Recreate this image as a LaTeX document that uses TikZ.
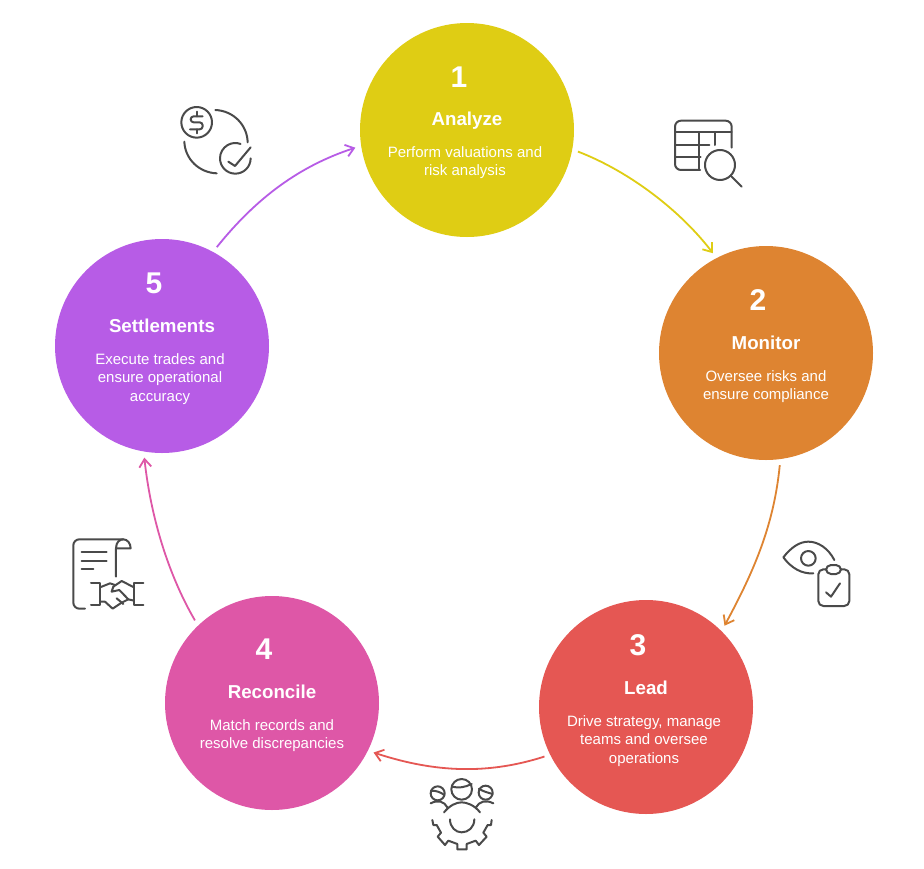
\documentclass[tikz,border=0pt]{standalone}
\usepackage{fontspec}
\setmainfont{Liberation Sans}
\usetikzlibrary{arrows.meta}
\definecolor{cA}{HTML}{DFCD14}
\definecolor{cB}{HTML}{DE8431}
\definecolor{cC}{HTML}{E55753}
\definecolor{cD}{HTML}{DE57A7}
\definecolor{cE}{HTML}{B75CE6}
\definecolor{ink}{HTML}{4A4A4A}
\tikzset{
  disc/.style={circle,draw=none,fill=#1,minimum size=214pt,inner sep=0pt,outer sep=6pt},
  num/.style={text=white,font=\bfseries\fontsize{30}{32}\selectfont,inner sep=0pt},
  ttl/.style={text=white,font=\bfseries\fontsize{18.7}{20}\selectfont,inner sep=0pt},
  dsc/.style={text=white,font=\fontsize{15}{18.2}\selectfont,align=center,inner sep=0pt},
  link/.style={draw=#1,line width=1.8pt,-{Straight Barb[length=8pt,width=12pt,line width=1.8pt]}},
  iconline/.style={draw=ink,line width=2pt,line cap=round,line join=round},
  iconbox/.style={shift={(#1)},x=0.3333pt,y=-0.3333pt}
}
\begin{document}
\begin{tikzpicture}[x=1pt,y=-1pt]
\useasboundingbox[fill=white] (0,0) rectangle (924,868);
\node[disc=cA] (c1) at (467,130) {};
\node[disc=cB] (c2) at (766,353) {};
\node[disc=cC] (c3) at (646,707) {};
\node[disc=cD] (c4) at (272,703) {};
\node[disc=cE] (c5) at (162,346) {};

\node[num] (n1) at (459,77) {1};
\node[ttl] (t1) at (467,121) {Analyze};
\node[dsc] (d1) at (465,163) {Perform valuations and\\risk analysis};
\node[num] (n2) at (758,300) {2};
\node[ttl] (t2) at (766,343) {Monitor};
\node[dsc] (d2) at (766,387) {Oversee risks and\\ensure compliance};
\node[num] (n3) at (638,645) {3};
\node[ttl] (t3) at (646,688) {Lead};
\node[dsc] (d3) at (644,741) {Drive strategy, manage\\teams and oversee\\operations};
\node[num] (n4) at (264,649) {4};
\node[ttl] (t4) at (272,692) {Reconcile};
\node[dsc] (d4) at (272,736) {Match records and\\resolve discrepancies};
\node[num] (n5) at (154,283) {5};
\node[ttl] (t5) at (162,326) {Settlements};
\node[dsc] (d5) at (160,379) {Execute trades and\\ensure operational\\accuracy};

\draw[link=cA] (c1.-11) .. controls +(52,20) and +(-32,-42) .. (c2.118);
\draw[link=cB] (c2.-83.5) .. controls +(-6,62) and +(28,-52) .. (c3.46);
\draw[link=cC] (c3.-154.6) .. controls +(-62,20) and +(55,18) .. (c4.-26.3);
\draw[link=cD] (c4.133) .. controls +(-28,-48) and +(6,56) .. (c5.-99);
\draw[link=cE] (c5.61.4) .. controls +(40,-50) and +(-55,18) .. (c1.-171);

% dollar and check icon
\begin{scope}[iconbox={160,90}]
\draw[iconline] (110,97) circle[radius=46];
\draw[iconline,rounded corners=3pt] (128,79) -- (92,79) -- (92,97) -- (128,97) -- (128,118) -- (90,118);
\draw[iconline] (110,65) -- (110,79) (110,118) -- (110,130);
\draw[iconline] (166,60) .. controls (220,62) and (262,105) .. (263,157);
\draw[iconline] (73,155) .. controls (75,208) and (118,248) .. (170,250);
\draw[iconline] (272,205) arc[start angle=0,end angle=290,radius=46] ;
\draw[iconline] (205,215) -- (225,228) -- (272,172);
\end{scope}

% table and magnifier icon
\begin{scope}[iconbox={660,105}]
\draw[iconline,rounded corners=6pt] (120,195) -- (45,195) -- (45,47) -- (215,47) -- (215,128);
\draw[iconline] (45,82) -- (215,82) (118,82) -- (118,195) (165,82) -- (165,120);
\draw[iconline] (45,120) -- (148,120) (45,157) -- (122,157);
\draw[iconline] (180,180) circle[radius=45];
\draw[iconline] (215,215) -- (245,245);
\end{scope}

% eye and clipboard icon
\begin{scope}[iconbox={770,530}]
\draw[iconline] (130,130) .. controls (95,132) and (65,115) .. (40,82) .. controls (65,50) and (90,35) .. (115,35) .. controls (145,35) and (175,55) .. (193,90);
\draw[iconline] (115,85) circle[radius=22];
\draw[iconline,rounded corners=5pt] (145,118) rectangle (238,228);
\draw[iconline,rounded corners=5pt,fill=white] (168,105) rectangle (213,132);
\draw[iconline] (168,187) -- (183,200) -- (210,160);
\end{scope}

% team and gear icon
\begin{scope}[iconbox={415,770}]
\draw[iconline] (140,58) circle[radius=31];
\draw[iconline] (112,50) .. controls (130,55) and (150,52) .. (170,42);
\draw[iconline] (68,70) circle[radius=21];
\draw[iconline] (48,62) .. controls (62,62) and (75,65) .. (88,75);
\draw[iconline] (212,68) circle[radius=21];
\draw[iconline] (192,56) .. controls (205,65) and (220,68) .. (233,72);
\draw[iconline] (47,100) .. controls (70,88) and (88,95) .. (97,112);
\draw[iconline] (235,100) .. controls (212,88) and (192,95) .. (183,112);
\draw[iconline] (87,127) .. controls (105,105) and (125,97) .. (140,97) .. controls (155,97) and (178,105) .. (195,127);
\draw[iconline] (105,148) .. controls (105,172) and (122,187) .. (140,187) .. controls (160,187) and (178,172) .. (178,148);
\draw[iconline] (52,150) -- (55,165) -- (65,165) -- (78,188) -- (68,200) -- (90,225) -- (100,212) -- (127,222) -- (127,238) -- (155,238) -- (155,222) -- (182,212) -- (192,225) -- (215,200) -- (205,188) -- (218,165) -- (228,165) -- (230,150);
\end{scope}

% contract and handshake icon
\begin{scope}[iconbox={60,530}]
\draw[iconline,rounded corners=6pt] (75,236) -- (40,236) -- (40,28) -- (190,28);
\draw[iconline] (168,140) -- (168,55) .. controls (168,35) and (180,28) .. (190,28) .. controls (202,28) and (212,40) .. (212,55) -- (168,55);
\draw[iconline] (65,65) -- (140,65) (65,92) -- (140,92) (65,118) -- (100,118);
\draw[iconline] (93,160) -- (120,160) -- (120,225) -- (93,225);
\draw[iconline] (250,160) -- (222,160) -- (222,225) -- (250,225);
\draw[iconline] (120,172) -- (150,160) -- (165,165);
\draw[iconline] (222,172) -- (185,153) -- (160,170) -- (155,185) -- (178,180) -- (205,208) -- (222,212);
\draw[iconline] (120,215) -- (135,215) -- (158,236) -- (185,218) -- (205,208);
\draw[iconline] (170,205) -- (190,222);
\end{scope}
\end{tikzpicture}
\end{document}
